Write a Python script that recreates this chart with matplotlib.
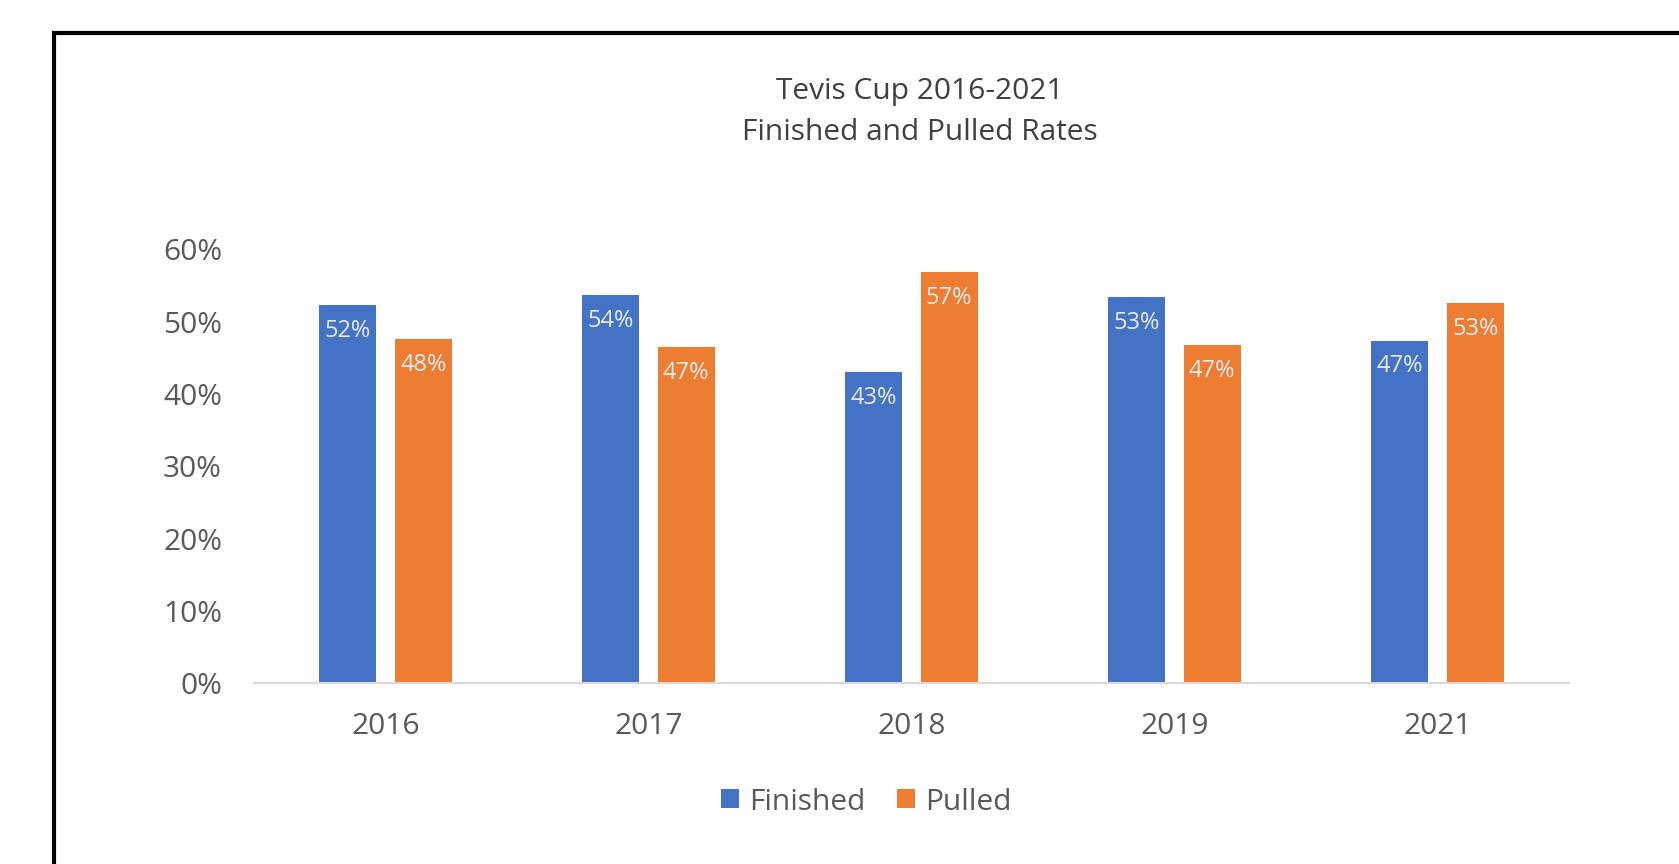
import matplotlib
matplotlib.use("Agg")
import matplotlib.pyplot as plt
from matplotlib.patches import Rectangle
import numpy as np

plt.rcParams['font.family'] = ['Open Sans', 'DejaVu Sans']

years = ["2016", "2017", "2018", "2019", "2021"]
finished = [0.523, 0.537, 0.430, 0.534, 0.474]
pulled = [0.476, 0.465, 0.569, 0.468, 0.526]
finished_labels = ["52%", "54%", "43%", "53%", "47%"]
pulled_labels = ["48%", "47%", "57%", "47%", "53%"]
yticks = [0, 0.1, 0.2, 0.3, 0.4, 0.5, 0.6]
ytick_labels = ["0%", "10%", "20%", "30%", "40%", "50%", "60%"]

W, H = 1679, 864
fig = plt.figure(figsize=(W / 100, H / 100), dpi=100)
fig.patch.set_facecolor('white')

# outer frame (extends beyond right and bottom edge)
fig.patches.append(Rectangle((54 / W, -0.1), 1.2, (H - 33) / H + 0.1,
                             transform=fig.transFigure, fill=False,
                             edgecolor='black', linewidth=3, zorder=0))

ax = fig.add_axes([254 / W, (H - 683) / H, (1569 - 254) / W, (683 - 249.5) / H])
x = np.arange(len(years))
w = 0.218
off = 0.1435
b1 = ax.bar(x - off, finished, w, color='#4472C4', label='Finished')
b2 = ax.bar(x + off, pulled, w, color='#ED7D31', label='Pulled')

for bars, labs in ((b1, finished_labels), (b2, pulled_labels)):
    for r, lab in zip(bars, labs):
        ax.annotate(lab, (r.get_x() + r.get_width() / 2, r.get_height()),
                    xytext=(0, -18.5), textcoords='offset points',
                    ha='center', va='center', fontsize=17, color='#e9edf5')

ax.set_xlim(-0.5, len(years) - 0.5)
ax.set_ylim(0, 0.6)
ax.set_yticks(yticks)
ax.set_yticklabels(ytick_labels)
ax.set_xticks(x)
ax.set_xticklabels(years)
ax.tick_params(axis='both', length=0, labelsize=21.5, labelcolor='#595959')
ax.tick_params(axis='y', pad=23)
ax.tick_params(axis='x', pad=21)
for s in ['top', 'right', 'left']:
    ax.spines[s].set_visible(False)
ax.spines['bottom'].set_color('#d9d9d9')
ax.spines['bottom'].set_linewidth(1.5)

fig.text(920 / W, 1 - 92 / H, "Tevis Cup 2016-2021", ha='center', va='center',
         fontsize=21.5, color='#404040')
fig.text(920 / W, 1 - 132 / H, "Finished and Pulled Rates", ha='center', va='center',
         fontsize=21.5, color='#404040')

fig.legend(handles=[b1, b2], labels=['Finished', 'Pulled'], loc='center',
           bbox_to_anchor=(866.5 / W, 1 - 802 / H), ncol=2, frameon=False,
           fontsize=21.5, labelcolor='#595959', handlelength=0.6, handleheight=0.6,
           handletextpad=0.33, columnspacing=1.07, borderpad=0, borderaxespad=0)

fig.savefig('out.png', dpi=100)
